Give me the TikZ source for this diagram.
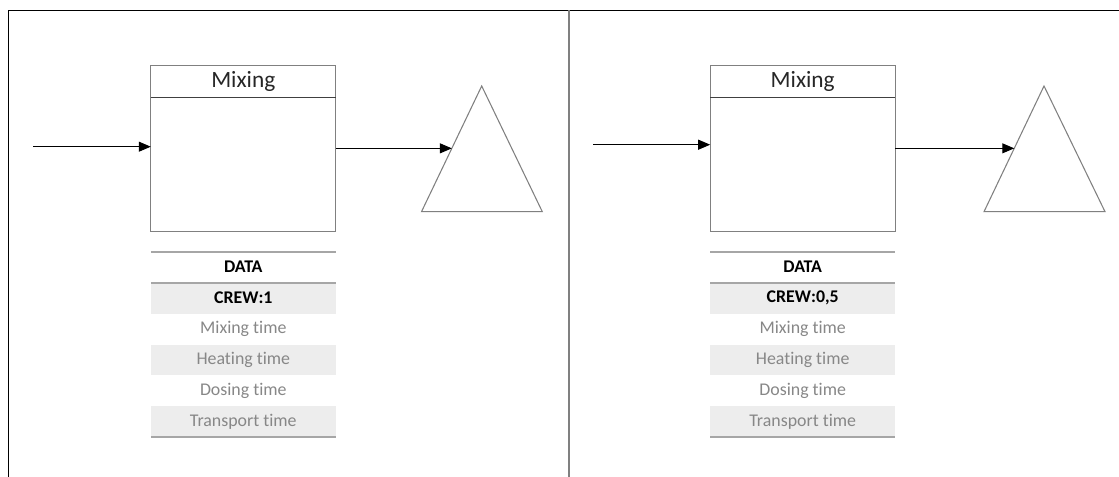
\documentclass[tikz,border=0pt]{standalone}
\usepackage{fontspec}
\setmainfont[Ligatures=NoCommon]{Carlito}
\usetikzlibrary{positioning,arrows.meta,calc}
\definecolor{rowgray}{HTML}{EDEDED}
\definecolor{txtgray}{HTML}{878787}
\definecolor{rulegray}{HTML}{A6A6A6}
\definecolor{edgegray}{HTML}{808080}
\definecolor{darktext}{HTML}{262626}

\begin{document}
\begin{tikzpicture}[x=0.75pt, y=-0.75pt,
    box/.style={draw=edgegray, line width=0.8pt, minimum width=138.75pt, minimum height=124.5pt, inner sep=0pt, outer sep=0pt},
    boxtitle/.style={minimum height=24pt, inner sep=0pt, outer sep=0pt, text=darktext, font=\fontsize{17.5}{20}\selectfont},
    divider/.style={draw=black!75, line width=0.75pt},
    trow/.style={minimum width=138.75pt, minimum height=23.2pt, inner sep=0pt, outer sep=0pt, text=txtgray, font=\fontsize{13.4}{16}\selectfont},
    shade/.style={trow, fill=rowgray},
    head/.style={trow, text=black, font=\fontsize{13.4}{16}\selectfont\bfseries},
    rule/.style={draw=rulegray, line width=1.5pt},
    tri/.style={draw=edgegray, line width=0.8pt},
    flow/.style={-{Triangle[length=9pt, width=7.5pt]}, line width=0.75pt, black}]

    \useasboundingbox (0,0) rectangle (1119,477);

    % --- Outer frame and dividing line ---
    \draw[line width=0.75pt] (8,477) -- (8,10.5) -- (1119,10.5);
    \draw[draw=edgegray, line width=1.5pt] (569,10.5) -- (569,477);

    % --- Left panel: mixing step ---
    \node[box] (mix1) at (243.3,148.7) {};
    \node[boxtitle, below=0pt of mix1.north] (title1) {Mixing};
    \draw[divider] (title1.south -| mix1.west) -- (title1.south -| mix1.east);

    % --- Left panel: storage triangle ---
    \coordinate (tri1top) at (481.7,86);
    \coordinate (tri1left) at (421.5,211.7);
    \coordinate (tri1right) at (542.3,211.7);
    \draw[tri] (tri1top) -- (tri1left) -- (tri1right) -- cycle;

    % --- Left panel: arrows ---
    \coordinate (in1) at (33,146.7);
    \coordinate (hit1) at ($(tri1top)!0.496!(tri1left)$);
    \draw[flow] (in1) -- (in1 -| mix1.west);
    \draw[flow] (hit1 -| mix1.east) -- (hit1);

    % --- Left panel: data table ---
    \node[head, anchor=north] (data1) at (243.3,251.7) {DATA};
    \node[head, fill=rowgray, below=0pt of data1] (crew1) {CREW:1};
    \node[trow, below=0pt of crew1] (mixt1) {Mixing time};
    \node[shade, below=0pt of mixt1] (heat1) {Heating time};
    \node[trow, below=0pt of heat1] (dose1) {Dosing time};
    \node[shade, below=0pt of dose1] (tran1) {Transport time};
    \draw[rule] (data1.north west) -- (data1.north east);
    \draw[rule] (data1.south west) -- (data1.south east);
    \draw[rule] (tran1.south west) -- (tran1.south east);

    % --- Right panel: mixing step ---
    \node[box] (mix2) at (802.7,148.7) {};
    \node[boxtitle, below=0pt of mix2.north] (title2) {Mixing};
    \draw[divider] (title2.south -| mix2.west) -- (title2.south -| mix2.east);

    % --- Right panel: storage triangle ---
    \coordinate (tri2top) at (1044,86);
    \coordinate (tri2left) at (984,211.7);
    \coordinate (tri2right) at (1105,211.7);
    \draw[tri] (tri2top) -- (tri2left) -- (tri2right) -- cycle;

    % --- Right panel: arrows ---
    \coordinate (in2) at (593,144.7);
    \coordinate (hit2) at ($(tri2top)!0.496!(tri2left)$);
    \draw[flow] (in2) -- (in2 -| mix2.west);
    \draw[flow] (hit2 -| mix2.east) -- (hit2);

    % --- Right panel: data table ---
    \node[head, anchor=north] (data2) at (802.7,251.7) {DATA};
    \node[head, fill=rowgray, below=0pt of data2] (crew2) {CREW:0,5};
    \node[trow, below=0pt of crew2] (mixt2) {Mixing time};
    \node[shade, below=0pt of mixt2] (heat2) {Heating time};
    \node[trow, below=0pt of heat2] (dose2) {Dosing time};
    \node[shade, below=0pt of dose2] (tran2) {Transport time};
    \draw[rule] (data2.north west) -- (data2.north east);
    \draw[rule] (data2.south west) -- (data2.south east);
    \draw[rule] (tran2.south west) -- (tran2.south east);
\end{tikzpicture}
\end{document}
